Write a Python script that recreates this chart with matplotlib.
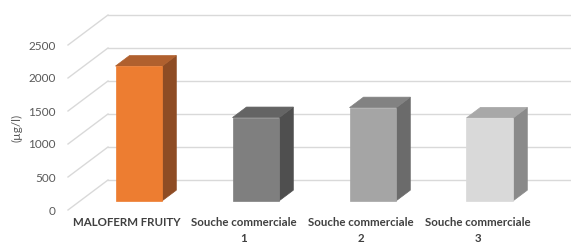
import matplotlib.pyplot as plt
import numpy as np
from matplotlib.patches import Polygon
from matplotlib.transforms import IdentityTransform

# data
categories = ["MALOFERM FRUITY", "Souche commerciale\n1", "Souche commerciale\n2", "Souche commerciale\n3"]
values = [2040, 1260, 1410, 1255]
yticks = [0, 500, 1000, 1500, 2000, 2500]

# colours: front, top, side
front_cols = ["#ED7D31", "#7F7F7F", "#A5A5A5", "#D9D9D9"]
top_cols = ["#B0602E", "#646464", "#828282", "#A8A8A8"]
side_cols = ["#8E4C24", "#4F4F4F", "#6B6B6B", "#8A8A8A"]

W, H = 571, 245
fig = plt.figure(figsize=(W / 100, H / 100), dpi=100)
ax = fig.add_axes([68 / W, 35 / H, 468 / W, 165 / H])
ax.set_xlim(-0.5, len(categories) - 0.5)
ax.set_ylim(0, 2500)
for s in ax.spines.values():
    s.set_visible(False)
ax.set_facecolor("none")

# depth of the 3d box in pixels
DX, DY = 40, 30


def proj(x, y, d):
    p = ax.transData.transform((x, y))
    return (p[0] + DX * d, p[1] + DY * d)


ident = IdentityTransform()

# back wall gridlines and floor diagonals
for t in yticks:
    x0, y0 = proj(-0.5, t, 0)
    x1, y1 = proj(-0.5, t, 1)
    x2, y2 = proj(len(categories) - 0.5, t, 1)
    ax.add_line(plt.Line2D([x0, x1], [y0, y1], color="#D9D9D9", lw=1.0,
                           transform=ident, clip_on=False))
    ax.add_line(plt.Line2D([x1, x2], [y1, y2], color="#D9D9D9", lw=1.0,
                           transform=ident, clip_on=False))

# 3d bars
bw = 0.4
d0, d1 = 0.31, 0.66
for i, v in enumerate(values):
    xl, xr = i - bw / 2, i + bw / 2
    front = [proj(xl, 0, d0), proj(xr, 0, d0), proj(xr, v, d0), proj(xl, v, d0)]
    top = [proj(xl, v, d0), proj(xr, v, d0), proj(xr, v, d1), proj(xl, v, d1)]
    side = [proj(xr, 0, d0), proj(xr, 0, d1), proj(xr, v, d1), proj(xr, v, d0)]
    for pts, c in [(side, side_cols[i]), (top, top_cols[i]), (front, front_cols[i])]:
        ax.add_patch(Polygon(pts, closed=True, facecolor=c, edgecolor=c, lw=0.5,
                             transform=ident, clip_on=False, zorder=3))

ax.set_yticks(yticks)
ax.set_yticklabels([str(t) for t in yticks], fontsize=8.5, color="#595959", family="Lato")
ax.set_xticks(range(len(categories)))
ax.set_xticklabels(categories, fontsize=8.3, color="#404040", family="Lato",
                   fontweight="bold", linespacing=1.55)
ax.tick_params(axis="y", length=0, pad=9)
ax.tick_params(axis="x", length=0, pad=5)
ax.set_ylabel("(µg/l)", fontsize=8.5, color="#595959", family="Lato", labelpad=4)

fig.savefig("out.png", dpi=100)
